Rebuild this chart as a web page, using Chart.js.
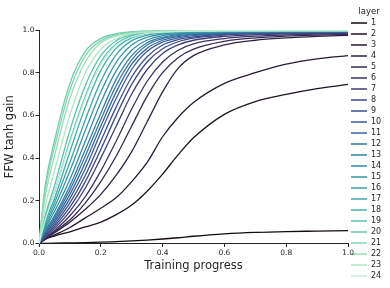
<!DOCTYPE html>
<html>
<head>
<meta charset="utf-8">
<script src="https://cdn.jsdelivr.net/npm/chart.js@4.4.1/dist/chart.umd.min.js"></script>
<style>
  body { margin: 0; background: #fff; }
  canvas { display: block; }
</style>
</head>
<body>
<canvas id="myChart" width="390" height="288"></canvas>
<script>
// training progress sample points (shared by every layer)
const progress = [0, 0.02, 0.05, 0.1, 0.15, 0.2, 0.25, 0.3, 0.35, 0.4, 0.45, 0.5, 0.6, 0.7, 0.8, 0.9, 1.0];

const layer1 = [0, 0.001, 0.002, 0.003, 0.004, 0.006, 0.009, 0.012, 0.016, 0.021, 0.027, 0.034, 0.045, 0.052, 0.056, 0.058, 0.06];
const layer2 = [0, 0.02, 0.035, 0.055, 0.078, 0.1, 0.135, 0.18, 0.245, 0.325, 0.415, 0.495, 0.605, 0.665, 0.698, 0.725, 0.745];
const layer3 = [0, 0.02, 0.04, 0.075, 0.12, 0.165, 0.215, 0.29, 0.38, 0.5, 0.59, 0.66, 0.75, 0.8, 0.84, 0.865, 0.88];
const layer4 = [0, 0.02, 0.05, 0.1, 0.16, 0.23, 0.32, 0.43, 0.57, 0.71, 0.82, 0.88, 0.93, 0.952, 0.963, 0.97, 0.975];
const layer5 = [0, 0.02, 0.055, 0.11, 0.19, 0.29, 0.41, 0.55, 0.69, 0.8, 0.87, 0.91, 0.947, 0.963, 0.971, 0.976, 0.979];
const layer6 = [0, 0.025, 0.06, 0.13, 0.22, 0.34, 0.48, 0.63, 0.76, 0.85, 0.905, 0.935, 0.96, 0.971, 0.977, 0.981, 0.983];
const layer7 = [0, 0.03, 0.07, 0.15, 0.26, 0.4, 0.55, 0.7, 0.815, 0.89, 0.93, 0.952, 0.97, 0.978, 0.982, 0.984, 0.986];
const layer8 = [0, 0.035, 0.08, 0.17, 0.29, 0.44, 0.6, 0.745, 0.85, 0.912, 0.945, 0.962, 0.976, 0.982, 0.985, 0.987, 0.988];
const layer9 = [0, 0.04, 0.09, 0.19, 0.32, 0.48, 0.64, 0.78, 0.875, 0.93, 0.955, 0.968, 0.98, 0.985, 0.987, 0.989, 0.99];
const layer10 = [0, 0.045, 0.1, 0.21, 0.35, 0.52, 0.68, 0.815, 0.9, 0.943, 0.963, 0.974, 0.983, 0.987, 0.989, 0.99, 0.991];
const layer11 = [0, 0.05, 0.11, 0.23, 0.38, 0.55, 0.71, 0.84, 0.915, 0.952, 0.969, 0.978, 0.985, 0.988, 0.99, 0.991, 0.992];
const layer12 = [0, 0.055, 0.12, 0.25, 0.41, 0.58, 0.74, 0.86, 0.93, 0.96, 0.974, 0.981, 0.987, 0.99, 0.991, 0.992, 0.993];
const layer13 = [0, 0.06, 0.13, 0.27, 0.44, 0.61, 0.77, 0.88, 0.94, 0.966, 0.978, 0.984, 0.989, 0.991, 0.992, 0.993, 0.994];
const layer14 = [0, 0.07, 0.15, 0.3, 0.48, 0.66, 0.81, 0.905, 0.953, 0.974, 0.983, 0.987, 0.991, 0.993, 0.994, 0.994, 0.995];
const layer15 = [0, 0.08, 0.17, 0.34, 0.53, 0.71, 0.85, 0.93, 0.966, 0.981, 0.987, 0.99, 0.993, 0.994, 0.995, 0.995, 0.995];
const layer16 = [0, 0.09, 0.19, 0.38, 0.58, 0.76, 0.885, 0.95, 0.976, 0.986, 0.99, 0.992, 0.994, 0.995, 0.995, 0.996, 0.996];
const layer17 = [0, 0.1, 0.21, 0.43, 0.64, 0.81, 0.915, 0.963, 0.982, 0.989, 0.992, 0.994, 0.995, 0.996, 0.996, 0.996, 0.996];
const layer18 = [0, 0.12, 0.24, 0.48, 0.69, 0.85, 0.935, 0.972, 0.986, 0.991, 0.994, 0.995, 0.996, 0.996, 0.997, 0.997, 0.997];
const layer19 = [0, 0.13, 0.27, 0.53, 0.74, 0.88, 0.95, 0.978, 0.989, 0.993, 0.995, 0.996, 0.997, 0.997, 0.997, 0.997, 0.997];
const layer20 = [0, 0.27, 0.48, 0.75, 0.9, 0.96, 0.983, 0.992, 0.995, 0.996, 0.997, 0.997, 0.998, 0.998, 0.998, 0.998, 0.998];
const layer21 = [0, 0.25, 0.45, 0.72, 0.88, 0.95, 0.978, 0.99, 0.994, 0.996, 0.997, 0.997, 0.998, 0.998, 0.998, 0.998, 0.998];
const layer22 = [0, 0.22, 0.41, 0.68, 0.85, 0.94, 0.972, 0.987, 0.993, 0.995, 0.996, 0.997, 0.997, 0.997, 0.998, 0.998, 0.998];
const layer23 = [0, 0.17, 0.34, 0.6, 0.8, 0.91, 0.96, 0.982, 0.99, 0.994, 0.995, 0.996, 0.997, 0.997, 0.997, 0.997, 0.997];
const layer24 = [0, 0.11, 0.24, 0.47, 0.68, 0.84, 0.93, 0.968, 0.984, 0.99, 0.993, 0.995, 0.996, 0.996, 0.996, 0.996, 0.996];

const layerValues = [layer1, layer2, layer3, layer4, layer5, layer6, layer7, layer8, layer9, layer10, layer11, layer12,
  layer13, layer14, layer15, layer16, layer17, layer18, layer19, layer20, layer21, layer22, layer23, layer24];
const layerNames = ["1", "2", "3", "4", "5", "6", "7", "8", "9", "10", "11", "12",
  "13", "14", "15", "16", "17", "18", "19", "20", "21", "22", "23", "24"];

const xTicks = [0, 0.2, 0.4, 0.6, 0.8, 1.0];
const yTicks = [0, 0.2, 0.4, 0.6, 0.8, 1.0];

const FONT = "'DejaVu Sans', sans-serif";
const INK = "#262626";

// mako colour map, sampled like seaborn does
const makoStops = [
  [0, [11, 4, 5]],
  [1 / 7, [46, 30, 59]],
  [2 / 7, [65, 61, 123]],
  [3 / 7, [55, 101, 158]],
  [4 / 7, [52, 143, 167]],
  [5 / 7, [64, 183, 173]],
  [6 / 7, [139, 218, 178]],
  [1, [222, 245, 229]],
];
const mako = (t) => {
  for (let i = 1; i < makoStops.length; i++) {
    if (t <= makoStops[i][0]) {
      const [t0, c0] = makoStops[i - 1];
      const [t1, c1] = makoStops[i];
      const f = (t - t0) / (t1 - t0);
      const c = c0.map((v, k) => Math.round(v + (c1[k] - v) * f));
      return `rgb(${c[0]}, ${c[1]}, ${c[2]})`;
    }
  }
  return "rgb(222, 245, 229)";
};

const datasets = layerValues.map((values, i) => {
  const color = mako((i + 1) / (layerValues.length + 1));
  return {
    label: layerNames[i],
    data: values.map((v, j) => ({ x: progress[j], y: v })),
    borderColor: color,
    backgroundColor: color,
    borderWidth: 1.3,
    pointRadius: 0,
    cubicInterpolationMode: "monotone",
    order: -i, // later layers drawn on top
  };
});

// fixed legend width, like the original figure
const legendWidth = {
  id: "legendWidth",
  beforeInit(chart) {
    const fit = chart.legend.fit;
    chart.legend.fit = function () {
      fit.call(this);
      this.width = 42;
    };
  },
};

const ctx = document.getElementById("myChart").getContext("2d");
const myChart = new Chart(ctx, {
  type: "line",
  data: { datasets },
  plugins: [legendWidth],
  options: {
    responsive: false,
    animation: false,
    devicePixelRatio: 1,
    layout: { padding: 0 },
    plugins: {
      tooltip: { enabled: false },
      title: {
        display: true,
        text: "",
        font: { size: 30, lineHeight: 1 },
        padding: 0,
      },
      legend: {
        position: "right",
        align: "start",
        title: {
          display: true,
          text: "layer",
          color: INK,
          font: { family: FONT, size: 8.5, lineHeight: 1 },
          padding: { top: 7.5, bottom: 0 },
        },
        labels: {
          boxWidth: 16,
          boxHeight: 0,
          padding: 3,
          color: INK,
          font: { family: FONT, size: 8 },
          sort: (a, b) => a.datasetIndex - b.datasetIndex,
        },
      },
    },
    scales: {
      x: {
        type: "linear",
        min: 0,
        max: 1,
        afterFit(scale) {
          scale.height = 44.5;
        },
        afterBuildTicks(scale) {
          scale.ticks = xTicks.map((v) => ({ value: v }));
        },
        ticks: {
          callback: (v) => v.toFixed(1),
          color: INK,
          font: { family: FONT, size: 7.5 },
          padding: 2,
          maxRotation: 0,
        },
        grid: { drawOnChartArea: false, drawTicks: true, tickLength: 3.5, tickColor: INK, tickWidth: 1 },
        border: { color: INK, width: 1 },
        title: {
          display: true,
          text: "Training progress",
          color: INK,
          font: { family: FONT, size: 11.5 },
          padding: { top: 0, bottom: 15 },
        },
      },
      y: {
        min: 0,
        max: 1,
        afterFit(scale) {
          scale.width = 39;
        },
        afterBuildTicks(scale) {
          scale.ticks = yTicks.map((v) => ({ value: v }));
        },
        ticks: {
          callback: (v) => v.toFixed(1),
          color: INK,
          font: { family: FONT, size: 7.5 },
          padding: 1,
        },
        grid: { drawOnChartArea: false, drawTicks: true, tickLength: 3.5, tickColor: INK, tickWidth: 1 },
        border: { color: INK, width: 1 },
        title: {
          display: true,
          text: "FFW tanh gain",
          color: INK,
          font: { family: FONT, size: 11.5 },
          padding: { top: 3.6, bottom: 0 },
        },
      },
    },
  },
});
</script>
</body>
</html>
